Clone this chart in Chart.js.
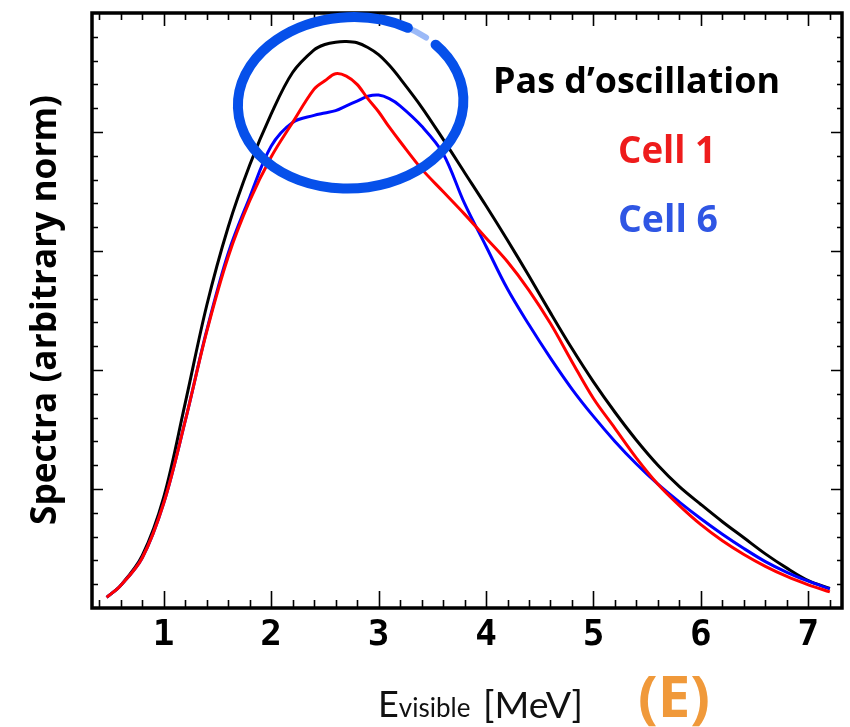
<!DOCTYPE html>
<html>
<head>
<meta charset="utf-8">
<script src="https://cdn.jsdelivr.net/npm/chart.js@4.4.1/dist/chart.umd.min.js"></script>
<style>
  html, body { margin: 0; padding: 0; background: #fff; }
  #spectra { display: block; }
</style>
</head>
<body>
<canvas id="spectra" width="850" height="727"></canvas>
<script>
// visible energy grid (MeV) and the three spectra
const energy = [0.47, 0.6, 0.8, 1.0, 1.2, 1.4, 1.6, 1.8, 2.0, 2.2, 2.4, 2.5, 2.6, 2.7, 2.8, 2.9, 3.0, 3.1, 3.2,
  3.4, 3.6, 3.8, 4.0, 4.2, 4.4, 4.6, 4.8, 5.0, 5.2, 5.4, 5.6, 5.8, 6.0, 6.2, 6.4, 6.6, 6.8, 7.0, 7.2];

const noOscillation = [0.09, 0.19, 0.44, 0.93, 1.72, 2.54, 3.20, 3.72, 4.15, 4.50, 4.69, 4.735, 4.755, 4.76, 4.75, 4.71, 4.65, 4.56, 4.45,
  4.21, 3.94, 3.66, 3.38, 3.09, 2.79, 2.48, 2.18, 1.90, 1.645, 1.41, 1.20, 1.02, 0.87, 0.725, 0.59, 0.455, 0.335, 0.23, 0.165];

const cell1 = [0.09, 0.19, 0.42, 0.88, 1.57, 2.32, 2.95, 3.42, 3.79, 4.08, 4.36, 4.43, 4.49, 4.47, 4.40, 4.28, 4.17, 4.04, 3.92,
  3.69, 3.50, 3.31, 3.11, 2.91, 2.67, 2.39, 2.07, 1.76, 1.51, 1.26, 1.04, 0.86, 0.70, 0.565, 0.45, 0.35, 0.265, 0.195, 0.135];

const cell6 = [0.09, 0.19, 0.42, 0.88, 1.57, 2.33, 2.98, 3.45, 3.88, 4.08, 4.14, 4.16, 4.18, 4.22, 4.26, 4.30, 4.31, 4.28, 4.22,
  4.05, 3.82, 3.40, 3.04, 2.68, 2.38, 2.10, 1.84, 1.61, 1.40, 1.21, 1.04, 0.89, 0.75, 0.62, 0.50, 0.39, 0.30, 0.225, 0.16];

const xTickValues = [1, 2, 3, 4, 5, 6, 7];
const xRange = [0.333, 7.313];
const yRange = [0, 5];

const seriesNames = ["Pas d\u2019oscillation", "Cell 1", "Cell 6"];
const seriesColors = ["#000000", "#ff0000", "#0000ff"];
const labelColors = ["#000000", "#ee1c1c", "#2f56e4"];

// the hand-drawn circle around the peak region (data units)
const highlight = { x: 2.74, y: 4.245, rx: 1.05, ry: 0.72 };

const toPoints = (ys) => energy.map((e, i) => ({ x: e, y: ys[i] }));

// shrink/grow a font so the text spans the wanted width
function fitFont(ctx, text, weight, family, width) {
  ctx.font = weight + " 40px " + family;
  const size = 40 * width / ctx.measureText(text).width;
  ctx.font = weight + " " + size.toFixed(2) + "px " + family;
  return size;
}

const framePlugin = {
  id: "frameTicks",
  afterDraw(chart) {
    const { ctx, chartArea: a, scales: { x, y } } = chart;
    ctx.save();

    // inward ticks on all four sides
    ctx.strokeStyle = "#000";
    ctx.lineWidth = 1.6;
    ctx.beginPath();
    for (let i = 1; i <= 37; i++) {
      const v = i / 5;
      if (v <= xRange[0] || v >= xRange[1]) continue;
      const px = Math.round(x.getPixelForValue(v)) + 0.5;
      const major = i % 5 === 0;
      ctx.moveTo(px, a.bottom);
      ctx.lineTo(px, a.bottom - (major ? 17 : 8));
      ctx.moveTo(px, a.top);
      ctx.lineTo(px, a.top + (major ? 13 : 7));
    }
    for (let i = 1; i < 25; i++) {
      const v = i / 5;
      const py = Math.round(y.getPixelForValue(v)) + 0.5;
      const major = i % 5 === 0;
      ctx.moveTo(a.left, py);
      ctx.lineTo(a.left + (major ? 11 : 6), py);
      ctx.moveTo(a.right, py);
      ctx.lineTo(a.right - (major ? 11 : 5), py);
    }
    ctx.stroke();

    // thick frame
    ctx.lineWidth = 3.5;
    ctx.strokeRect(a.left, a.top, a.right - a.left, a.bottom - a.top);

    // blue ellipse, with a gap and a fading end at top right
    const cx = x.getPixelForValue(highlight.x);
    const cy = y.getPixelForValue(highlight.y);
    const rx = x.getPixelForValue(highlight.x + highlight.rx) - cx;
    const ry = cy - y.getPixelForValue(highlight.y + highlight.ry);
    ctx.strokeStyle = "#0650ea";
    ctx.lineCap = "round";
    ctx.lineWidth = 10;
    ctx.beginPath();
    ctx.ellipse(cx, cy, rx, ry, -0.05, -0.68, 2 * Math.PI - 1.0);
    ctx.stroke();
    ctx.globalAlpha = 0.4;
    ctx.lineWidth = 6;
    ctx.beginPath();
    ctx.ellipse(cx, cy, rx, ry, -0.05, 2 * Math.PI - 1.02, 2 * Math.PI - 0.8);
    ctx.stroke();
    ctx.globalAlpha = 1;

    // legend texts
    ctx.textBaseline = "alphabetic";
    ctx.textAlign = "left";
    ctx.fillStyle = labelColors[0];
    fitFont(ctx, seriesNames[0], "bold", "'Open Sans'", 287);
    ctx.fillText(seriesNames[0], 493, 93);
    ctx.fillStyle = labelColors[1];
    fitFont(ctx, seriesNames[1], "bold", "'Open Sans'", 98);
    ctx.fillText(seriesNames[1], 618, 163);
    ctx.fillStyle = labelColors[2];
    fitFont(ctx, seriesNames[2], "bold", "'Open Sans'", 100);
    ctx.fillText(seriesNames[2], 618, 232);

    // x axis title: E_visible [MeV]   (E)
    ctx.fillStyle = "#111";
    let tx = 378;
    ctx.font = "36px Lato";
    ctx.fillText("E", tx, 717);
    tx += ctx.measureText("E").width;
    ctx.font = "26px Lato";
    ctx.fillText("visible", tx, 717);
    fitFont(ctx, "[MeV]", "normal", "Lato", 100);
    ctx.fillText("[MeV]", 483, 718);
    ctx.fillStyle = "#f0993a";
    fitFont(ctx, "(E)", "bold", "'Open Sans'", 72);
    ctx.fillText("(E)", 638, 717);

    // y axis title
    ctx.save();
    ctx.translate(56, 310);
    ctx.rotate(-Math.PI / 2);
    ctx.textAlign = "center";
    ctx.fillStyle = "#000";
    fitFont(ctx, "Spectra (arbitrary norm)", "bold", "'Open Sans'", 430);
    ctx.fillText("Spectra (arbitrary norm)", 0, 0);
    ctx.restore();

    ctx.restore();
  }
};

const canvas = document.getElementById("spectra");

new Chart(canvas, {
  type: "line",
  data: {
    datasets: [
      { label: seriesNames[1], data: toPoints(cell1), borderColor: seriesColors[1], order: 0 },
      { label: seriesNames[2], data: toPoints(cell6), borderColor: seriesColors[2], order: 1 },
      { label: seriesNames[0], data: toPoints(noOscillation), borderColor: seriesColors[0], order: 2 }
    ]
  },
  options: {
    responsive: false,
    animation: false,
    devicePixelRatio: 1,
    layout: { padding: { left: 92, right: 8, top: 13, bottom: 0 } },
    elements: {
      line: { borderWidth: 3, tension: 0.35, fill: false },
      point: { radius: 0 }
    },
    plugins: { legend: { display: false }, tooltip: { enabled: false } },
    scales: {
      x: {
        type: "linear",
        min: xRange[0],
        max: xRange[1],
        grid: { display: false, drawTicks: false },
        border: { display: false },
        afterBuildTicks: (scale) => { scale.ticks = xTickValues.map(v => ({ value: v })); },
        afterFit: (scale) => { scale.height = 119; },
        ticks: {
          autoSkip: false,
          maxRotation: 0,
          padding: 6,
          color: "#000",
          font: { family: "DejaVu Sans Mono", size: 36, weight: "bold" },
          callback: (v) => String(v)
        }
      },
      y: {
        display: false,
        min: yRange[0],
        max: yRange[1]
      }
    }
  },
  plugins: [framePlugin]
});
</script>
</body>
</html>
